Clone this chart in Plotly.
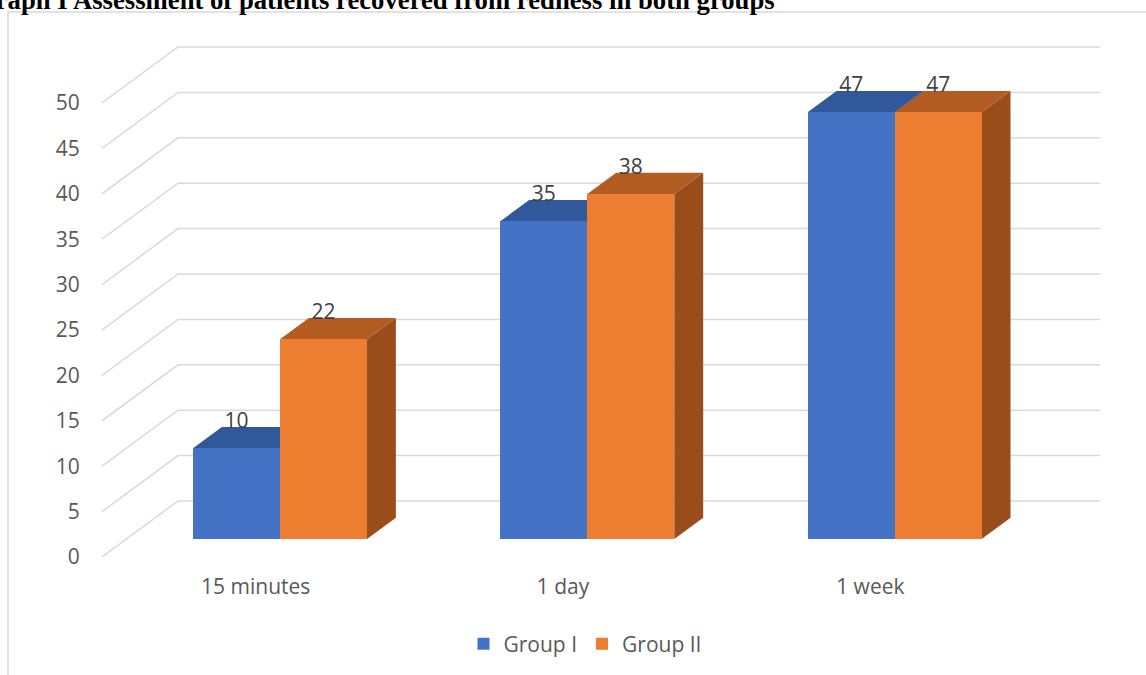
import plotly.graph_objects as go

# Chart data
categories = ["15 minutes", "1 day", "1 week"]
group_1 = [10, 35, 47]
group_2 = [22, 38, 47]
y_ticks = [0, 5, 10, 15, 20, 25, 30, 35, 40, 45, 50]
title_text = "Graph I Assessment of patients recovered from redness in both groups"

# Pseudo-3D geometry (in axis units)
W, H = 1146, 675
M_L, M_R, M_T, M_B = 102, 46, 20, 118
PX_X = 307.33            # pixels per category
PX_Y = 9.08              # pixels per value unit
X_RANGE = [-0.5, -0.5 + (W - M_L - M_R) / PX_X]
Y_RANGE = [0, (H - M_T - M_B) / PX_Y]
DEPTH_X = 76 / PX_X      # full floor depth, horizontal shift
DEPTH_Y = 56 / PX_Y      # full floor depth, vertical shift
BAR_FRONT = 0.32         # depth fraction where bar fronts sit
BAR_DEPTH = 0.38         # depth fraction covered by a bar
BAR_W = 87 / PX_X

GRID = "#d9d9d9"
TEXT = "#595959"
FONT = "Open Sans"
FS = 21

series = [
    ("Group I", group_1, "#4472c4", "#30589a", "#2a4d86", -0.5),
    ("Group II", group_2, "#ed7d31", "#b35c21", "#994d1b", 0.5),
]

base = BAR_FRONT * DEPTH_Y
shift = BAR_FRONT * DEPTH_X
dx = BAR_DEPTH * DEPTH_X
dy = BAR_DEPTH * DEPTH_Y

fig = go.Figure()
shapes = []


def px_to_paper_x(px):
    return (px - M_L) / (W - M_L - M_R)


def px_to_paper_y(py):
    return (H - M_B - py) / (H - M_T - M_B)


# Outer chart frame
shapes.append(dict(type="rect", xref="paper", yref="paper",
                   x0=px_to_paper_x(8), x1=px_to_paper_x(W + 10),
                   y0=px_to_paper_y(H + 10), y1=px_to_paper_y(12),
                   line=dict(color=GRID, width=1.5), fillcolor="rgba(0,0,0,0)",
                   layer="below"))

# Gridlines: diagonal on the side wall, then horizontal along the back wall
x_left, x_right = -0.5, len(categories) - 0.5
for v in y_ticks:
    path = (f"M {x_left},{v} L {x_left + DEPTH_X},{v + DEPTH_Y} "
            f"L {x_right + DEPTH_X},{v + DEPTH_Y}")
    shapes.append(dict(type="path", path=path, xref="x", yref="y",
                       line=dict(color=GRID, width=1.5), layer="below"))

# Bars (front faces) plus their top and side faces
for name, vals, c_front, c_top, c_side, side in series:
    xs = [i + shift + side * BAR_W for i in range(len(categories))]
    fig.add_trace(go.Bar(
        x=xs, y=vals, base=[base] * len(vals), width=BAR_W, name=name,
        marker=dict(color=c_front, line=dict(width=0)), hoverinfo="skip",
    ))
    for xc, v in zip(xs, vals):
        xl, xr = xc - BAR_W / 2, xc + BAR_W / 2
        yt = base + v
        side_path = (f"M {xr},{base} L {xr + dx},{base + dy} "
                     f"L {xr + dx},{yt + dy} L {xr},{yt} Z")
        top_path = (f"M {xl},{yt} L {xr},{yt} L {xr + dx},{yt + dy} "
                    f"L {xl + dx},{yt + dy} Z")
        shapes.append(dict(type="path", path=side_path, xref="x", yref="y",
                           fillcolor=c_side, line=dict(width=0), layer="below"))
        shapes.append(dict(type="path", path=top_path, xref="x", yref="y",
                           fillcolor=c_top, line=dict(width=0), layer="below"))
    # Value labels just above the top faces
    fig.add_trace(go.Scatter(
        x=xs, y=[base + v + dy + 0.45 for v in vals], text=[str(v) for v in vals],
        mode="text", textposition="middle center",
        textfont=dict(family=FONT, size=FS, color="#404040"),
        showlegend=False, hoverinfo="skip", cliponaxis=False,
    ))

fig.update_layout(
    width=W, height=H,
    margin=dict(l=M_L, r=M_R, t=M_T, b=M_B, autoexpand=False),
    paper_bgcolor="white", plot_bgcolor="white",
    barmode="overlay", bargap=0,
    shapes=shapes,
    showlegend=True,
    legend=dict(orientation="h", x=px_to_paper_x(585), xanchor="center",
                y=px_to_paper_y(644), yanchor="middle",
                font=dict(family=FONT, size=FS, color=TEXT),
                itemwidth=30, bgcolor="rgba(0,0,0,0)"),
    xaxis=dict(range=X_RANGE, tickvals=list(range(len(categories))),
               ticktext=categories, showgrid=False, zeroline=False,
               showline=False, ticks="outside", ticklen=11,
               tickcolor="rgba(0,0,0,0)",
               tickfont=dict(family=FONT, size=FS, color=TEXT)),
    yaxis=dict(range=Y_RANGE, tickvals=y_ticks, showgrid=False,
               zeroline=False, showline=False, ticks="outside", ticklen=17,
               tickcolor="rgba(0,0,0,0)",
               tickfont=dict(family=FONT, size=FS, color=TEXT)),
    annotations=[dict(text=f"<b>{title_text}</b>", xref="paper", yref="paper",
                      x=px_to_paper_x(777), xanchor="right",
                      y=px_to_paper_y(17.5), yanchor="bottom",
                      showarrow=False,
                      font=dict(family="Liberation Serif", size=26.7, color="black"))],
)

fig.write_html("out.html")
